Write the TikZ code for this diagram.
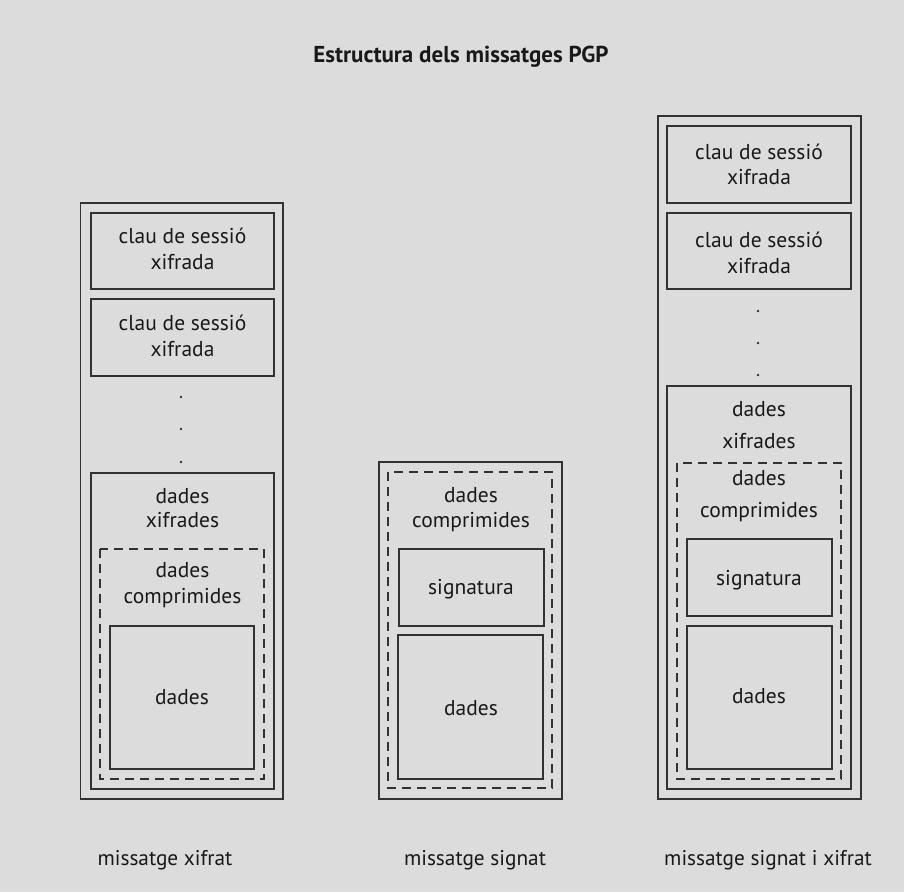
\documentclass[tikz,border=0pt]{standalone}
\usepackage{fontspec}
\setmainfont{PT Sans}
\definecolor{bg}{RGB}{220,220,220}
\definecolor{ln}{RGB}{50,50,50}
\begin{document}
\begin{tikzpicture}[x=1pt,y=-1pt,
  box/.style={draw=ln, line width=1.1pt},
  dbox/.style={draw=ln, line width=1.1pt, dash pattern=on 9pt off 6pt},
  txt/.style={font=\fontsize{21.5}{25}\selectfont, text=black!90, inner sep=0pt, anchor=base},
  lbl/.style={font=\fontsize{21.3}{24}\selectfont, text=black!90, inner sep=0pt, anchor=base},
  dotc/.style={fill=ln, draw=none}]
\fill[bg] (0,0) rectangle (904,892);
\useasboundingbox (0,0) rectangle (904,892);
\node[txt, font=\fontsize{23}{27}\selectfont\bfseries] (title) at (461,62) {Estructura dels missatges PGP};

% ---------- left column
\draw[box] (80.5,203) rectangle (283,799);
\draw[box] (91,213) rectangle (274,289);
\draw[box] (91,299) rectangle (274,376);
\draw[box] (91,473) rectangle (274,789);
\draw[dbox] (100,549) rectangle (264,779);
\draw[box] (110,626) rectangle (254,769);
\node[txt] (l1a) at (182.5,243) {clau de sessió};
\node[txt] (l1b) at (182.5,269) {xifrada};
\node[txt] (l2a) at (182.5,330) {clau de sessió};
\node[txt] (l2b) at (182.5,356) {xifrada};
\foreach \yy in {397,429,462} \fill[dotc] (181,\yy) circle (1.3);
\node[txt] (l3a) at (182.5,503) {dades};
\node[txt] (l3b) at (182.5,527) {xifrades};
\node[txt] (l4a) at (182.5,577) {dades};
\node[txt] (l4b) at (182.5,603) {comprimides};
\node[txt] (l5) at (182,704) {dades};
\node[lbl] (lab1) at (165,865) {missatge xifrat};

% ---------- middle column
\draw[box] (379,462) rectangle (562,799);
\draw[dbox] (388,472) rectangle (552,788);
\draw[box] (399,549) rectangle (544,626);
\draw[box] (398,635) rectangle (543,779);
\node[txt] (m1a) at (471,502) {dades};
\node[txt] (m1b) at (471,527) {comprimides};
\node[txt] (m2) at (471,594) {signatura};
\node[txt] (m3) at (471,715) {dades};
\node[lbl] (lab2) at (475,865) {missatge signat};

% ---------- right column
\draw[box] (658,116) rectangle (861,799);
\draw[box] (667,126) rectangle (851,203);
\draw[box] (667,213) rectangle (851,289);
\draw[box] (667,386) rectangle (851,789);
\draw[dbox] (677,463) rectangle (841,779);
\draw[box] (687,539) rectangle (832,616);
\draw[box] (687,626) rectangle (832,769);
\node[txt] (r1a) at (759,159) {clau de sessió};
\node[txt] (r1b) at (759,184) {xifrada};
\node[txt] (r2a) at (759,247) {clau de sessió};
\node[txt] (r2b) at (759,273) {xifrada};
\foreach \yy in {311,343,375} \fill[dotc] (758,\yy) circle (1.3);
\node[txt] (r3a) at (759,416) {dades};
\node[txt] (r3b) at (759,448) {xifrades};
\node[txt] (r4a) at (759,485) {dades};
\node[txt] (r4b) at (759,517) {comprimides};
\node[txt] (r5) at (759,585) {signatura};
\node[txt] (r6) at (759,703) {dades};
\node[lbl] (lab3) at (768,865) {missatge signat i xifrat};
\end{tikzpicture}
\end{document}
